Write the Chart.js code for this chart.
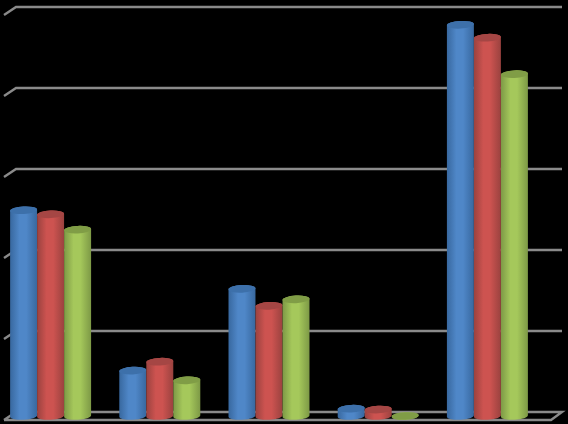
<!DOCTYPE html>
<html>
<head>
<meta charset="utf-8">
<style>
  html, body { margin: 0; background: #000; overflow: hidden; }
  #chart { position: absolute; left: -4px; top: 0; filter: blur(0.45px); }
</style>
<script src="https://cdn.jsdelivr.net/npm/chart.js@4"></script>
</head>
<body>
<canvas id="chart" width="572" height="424"></canvas>
<script>
const categories = ['1', '2', '3', '4', '5'];
const seriesA = [2.54, 0.56, 1.57, 0.09, 4.83];
const seriesB = [2.49, 0.67, 1.36, 0.08, 4.67];
const seriesC = [2.30, 0.44, 1.44, 0.00, 4.22];

// edge, middle, top cap
const blues = ['#38689f', '#4f87c8', '#3d70aa'];
const reds = ['#9a423f', '#cd5350', '#a54644'];
const greens = ['#7d9946', '#a5c85b', '#809d46'];
const palettes = [blues, reds, greens];

const GRID_COLOR = '#8a8a8a';

// gridlines and floor of the fake 3d box, behind the bars
const wallPlugin = {
    id: 'walls',
    beforeDatasetsDraw(chart) {
        const { ctx, chartArea, scales } = chart;
        const y = scales.y;
        const frontLeft = chartArea.left + 8;
        const backLeft = chartArea.left + 20;
        const frontRight = chartArea.right + 9;
        const backRight = chartArea.right + 20;

        ctx.save();
        ctx.strokeStyle = GRID_COLOR;
        ctx.lineWidth = 2.4;
        y.ticks.forEach((tick) => {
            const py = y.getPixelForValue(tick.value);
            ctx.beginPath();
            ctx.moveTo(frontLeft, py + 4);
            ctx.lineTo(backLeft, py - 4);
            ctx.lineTo(backRight, py - 4);
            if (tick.value === 0) {
                ctx.lineTo(frontRight, py + 4);
                ctx.lineTo(frontLeft, py + 4);
            }
            ctx.stroke();
        });
        ctx.restore();
    },
};

// turns each bar element into a cylinder, caps lean a little for the perspective
const cylinderPlugin = {
    id: 'cylinders',
    afterDatasetsDraw(chart) {
        const { ctx } = chart;
        const capHeight = 3.8;
        const tilt = -0.05;

        ctx.save();
        chart.data.datasets.forEach((dataset, index) => {
            const [edge, middle, cap] = palettes[index];
            chart.getDatasetMeta(index).data.forEach((bar) => {
                const rx = bar.width / 2;
                const left = bar.x - rx;
                const gradient = ctx.createLinearGradient(left, 0, left + bar.width, 0);
                gradient.addColorStop(0, edge);
                gradient.addColorStop(0.35, middle);
                gradient.addColorStop(0.6, middle);
                gradient.addColorStop(1, edge);

                ctx.fillStyle = gradient;
                ctx.beginPath();
                ctx.ellipse(bar.x, bar.y, rx, capHeight, tilt, Math.PI, 0, false);
                ctx.ellipse(bar.x, bar.base, rx, capHeight, tilt, 0, Math.PI, false);
                ctx.closePath();
                ctx.fill();

                ctx.fillStyle = cap;
                ctx.beginPath();
                ctx.ellipse(bar.x, bar.y, rx, capHeight, tilt, 0, Math.PI * 2);
                ctx.fill();
            });
        });
        ctx.restore();
    },
};

new Chart(document.getElementById('chart'), {
    type: 'bar',
    data: {
        labels: categories,
        datasets: [
            { label: 'A', data: seriesA, backgroundColor: 'rgba(0,0,0,0)' },
            { label: 'B', data: seriesB, backgroundColor: 'rgba(0,0,0,0)' },
            { label: 'C', data: seriesC, backgroundColor: 'rgba(0,0,0,0)' },
        ],
    },
    options: {
        responsive: false,
        animation: false,
        layout: { padding: { left: 0, right: 26, top: 11, bottom: 8 } },
        plugins: { legend: { display: false }, tooltip: { enabled: false } },
        datasets: { bar: { categoryPercentage: 0.742, barPercentage: 1 } },
        scales: {
            x: { display: false },
            y: { display: false, min: 0, max: 5, ticks: { stepSize: 1 } },
        },
    },
    plugins: [wallPlugin, cylinderPlugin],
});
</script>
</body>
</html>
